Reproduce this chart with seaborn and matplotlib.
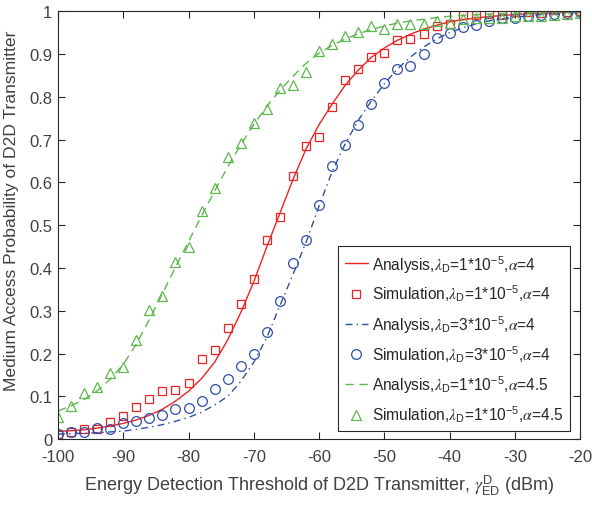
import numpy as np
import pandas as pd
import matplotlib
matplotlib.use("Agg")
import matplotlib.pyplot as plt
import seaborn as sns

# x grid (dBm), one point every 2 dBm
x_vals = np.arange(-100, -19, 2)

# analysis curves
ana_red = [0.018, 0.020, 0.022, 0.026, 0.031, 0.037, 0.045, 0.056, 0.070, 0.089,
           0.112, 0.142, 0.180, 0.232, 0.296, 0.368, 0.450, 0.528, 0.607, 0.678,
           0.735, 0.783, 0.827, 0.862, 0.892, 0.914, 0.932, 0.946, 0.958, 0.967,
           0.975, 0.980, 0.984, 0.987, 0.990, 0.992, 0.994, 0.995, 0.996, 0.997, 0.998]
ana_blue = [0.012, 0.013, 0.014, 0.015, 0.017, 0.019, 0.023, 0.028, 0.034, 0.042,
            0.051, 0.063, 0.080, 0.100, 0.135, 0.180, 0.238, 0.312, 0.385, 0.460,
            0.545, 0.625, 0.690, 0.745, 0.790, 0.830, 0.865, 0.893, 0.916, 0.935,
            0.950, 0.961, 0.970, 0.977, 0.982, 0.986, 0.989, 0.992, 0.994, 0.996, 0.997]
ana_green = [0.066, 0.078, 0.093, 0.113, 0.140, 0.175, 0.222, 0.280, 0.340, 0.402,
             0.462, 0.522, 0.580, 0.636, 0.688, 0.735, 0.778, 0.815, 0.848, 0.878,
             0.902, 0.920, 0.935, 0.947, 0.957, 0.965, 0.972, 0.977, 0.981, 0.985,
             0.988, 0.990, 0.992, 0.993, 0.994, 0.995, 0.996, 0.997, 0.998, 0.998, 0.999]

# simulation points
sim_red = [0.013, 0.018, 0.023, 0.023, 0.040, 0.054, 0.076, 0.093, 0.112, 0.115,
           0.131, 0.188, 0.209, 0.259, 0.317, 0.375, 0.465, 0.520, 0.615, 0.685,
           0.707, 0.776, 0.840, 0.866, 0.894, 0.902, 0.932, 0.934, 0.946, 0.966,
           0.970, 0.991, 0.990, 0.993, 0.990, 0.999, 0.998, 0.996, 1.002, 0.998, 1.000]
sim_blue = [0.013, 0.017, 0.017, 0.027, 0.025, 0.037, 0.043, 0.050, 0.056, 0.071,
            0.074, 0.089, 0.118, 0.140, 0.171, 0.199, 0.251, 0.322, 0.412, 0.466,
            0.547, 0.639, 0.688, 0.734, 0.783, 0.833, 0.866, 0.873, 0.900, 0.938,
            0.949, 0.962, 0.968, 0.976, 0.984, 0.985, 0.989, 0.991, 0.993, 0.995, 0.999]
sim_green = [0.052, 0.078, 0.107, 0.121, 0.154, 0.169, 0.232, 0.301, 0.335, 0.414,
             0.448, 0.533, 0.586, 0.660, 0.693, 0.738, 0.771, 0.820, 0.827, 0.857,
             0.908, 0.924, 0.941, 0.952, 0.966, 0.958, 0.971, 0.969, 0.970, 0.977,
             0.972, 0.981, 0.985, 0.983, 0.984, 0.988, 0.988, 0.989, 0.990, 0.994, 0.996]

x_ticks = [-100, -90, -80, -70, -60, -50, -40, -30, -20]
y_ticks = [0, 0.1, 0.2, 0.3, 0.4, 0.5, 0.6, 0.7, 0.8, 0.9, 1]
y_tick_labels = ["0", "0.1", "0.2", "0.3", "0.4", "0.5", "0.6", "0.7", "0.8", "0.9", "1"]

RED = "#ee2222"
BLUE = "#2f4fa6"
GREEN = "#5cb84c"
AX_COLOR = "#262626"
TXT_COLOR = "#404040"

sns.set_style("ticks")
plt.rcParams["font.family"] = ["Liberation Sans", "DejaVu Sans"]
plt.rcParams["mathtext.fontset"] = "stix"
plt.rcParams["font.size"] = 12

df = pd.DataFrame({
    "x": x_vals,
    "ana_red": ana_red, "ana_blue": ana_blue, "ana_green": ana_green,
    "sim_red": sim_red, "sim_blue": sim_blue, "sim_green": sim_green,
})


def lab(kind, lam, alpha):
    return (kind + r",$\lambda_\mathregular{D}$=" + lam + r"*10$^\mathregular{-5}$,$\alpha$=" + alpha)


fig = plt.figure(figsize=(5.92, 5.06), dpi=100)
ax = fig.add_axes([0.098, 0.130, 0.882, 0.846])

sns.lineplot(data=df, x="x", y="ana_red", ax=ax, color=RED, lw=1.0, ls="-",
             label=lab("Analysis", "1", "4"))
sns.lineplot(data=df, x="x", y="sim_red", ax=ax, color=RED, ls="", marker="s", ms=6,
             mfc="none", mec=RED, mew=0.9, label=lab("Simulation", "1", "4"))
sns.lineplot(data=df, x="x", y="ana_blue", ax=ax, color=BLUE, lw=1.0, ls=(0, (5, 3, 1, 3)),
             label=lab("Analysis", "3", "4"))
sns.lineplot(data=df, x="x", y="sim_blue", ax=ax, color=BLUE, ls="", marker="o", ms=7,
             mfc="none", mec=BLUE, mew=0.9, label=lab("Simulation", "3", "4"))
sns.lineplot(data=df, x="x", y="ana_green", ax=ax, color=GREEN, lw=1.0, ls=(0, (6, 4)),
             label=lab("Analysis", "1", "4.5"))
sns.lineplot(data=df, x="x", y="sim_green", ax=ax, color=GREEN, ls="", marker="^", ms=7.5,
             mfc="none", mec=GREEN, mew=0.9, label=lab("Simulation", "1", "4.5"))

ax.set_xlim(-100, -20)
ax.set_ylim(0, 1)
ax.set_xticks(x_ticks)
ax.set_xticklabels([str(t) for t in x_ticks])
ax.set_yticks(y_ticks)
ax.set_yticklabels(y_tick_labels)

for sp in ax.spines.values():
    sp.set_visible(True)
    sp.set_color(AX_COLOR)
    sp.set_linewidth(0.8)
ax.tick_params(direction="in", length=5, width=0.8, top=True, right=True,
               colors=AX_COLOR, labelcolor=TXT_COLOR, labelsize=12)
ax.tick_params(axis="x", pad=7)
ax.tick_params(axis="y", pad=4)

ax.set_xlabel(r"Energy Detection Threshold of D2D Transmitter, $\gamma^\mathregular{D}_\mathregular{ED}$ (dBm)",
              fontsize=13, color=TXT_COLOR, labelpad=6)
ax.set_ylabel("Medium Access Probability of D2D Transmitter", fontsize=12.6,
              color=TXT_COLOR, labelpad=3)
ax.yaxis.set_label_coords(-0.075, 0.535)

leg = ax.legend(loc="lower right", bbox_to_anchor=(0.981, 0.019), borderaxespad=0,
                frameon=True, fancybox=False, framealpha=1, edgecolor=AX_COLOR,
                fontsize=11.2, handlelength=1.5, handletextpad=0.25,
                labelspacing=0.62, borderpad=0.45)
leg.get_frame().set_linewidth(0.8)
for t in leg.get_texts():
    t.set_color(AX_COLOR)

fig.savefig("out.png", dpi=100)
